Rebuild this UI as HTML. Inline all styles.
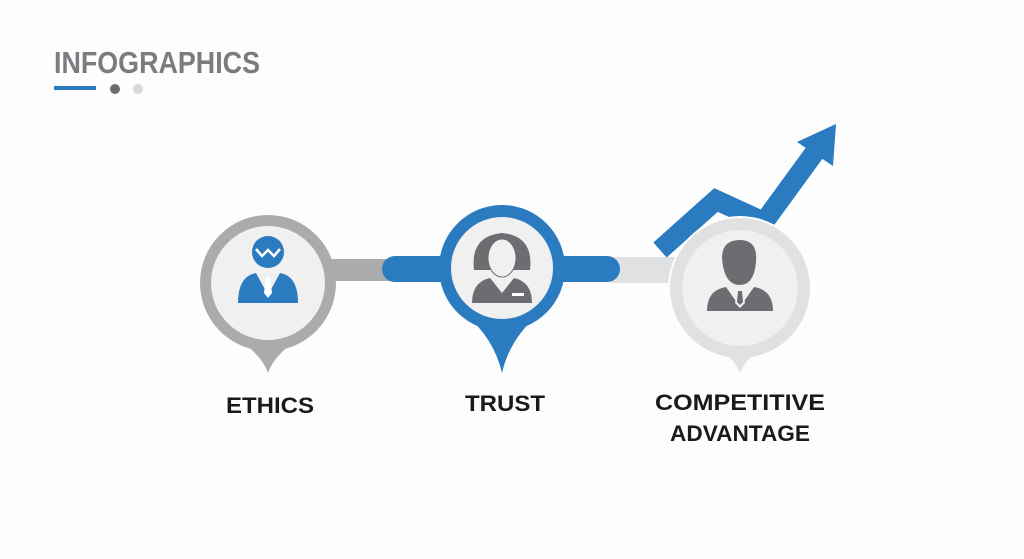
<!DOCTYPE html>
<html><head><style>html,body{margin:0;padding:0;background:#fff}svg{display:block}</style></head>
<body>
<svg width="1024" height="559" viewBox="0 0 1024 559" xmlns="http://www.w3.org/2000/svg" font-family="Liberation Sans, sans-serif">
<rect width="1024" height="559" fill="#fdfdfd"/>
<text x="54" y="73" font-size="31" font-weight="bold" fill="#7a7c7f" textLength="206" lengthAdjust="spacingAndGlyphs">INFOGRAPHICS</text>
<rect x="54" y="86" width="42" height="4" fill="#2a7bbf"/>
<circle cx="115" cy="89" r="5" fill="#6b6d70"/>
<circle cx="138" cy="89" r="5" fill="#d7d9db"/>

<rect x="320" y="259" width="70" height="22" fill="#a9abad"/>
<rect x="610" y="257" width="80" height="26" fill="#dfe1e3"/>
<rect x="382" y="256" width="238" height="26" rx="13" fill="#2a7bbf"/>

<polyline points="660,250 716,200 764,222 815,152" fill="none" stroke="#2a7bbf" stroke-width="20" stroke-linejoin="miter"/>
<polygon points="836,124 797,142 833,166" fill="#2a7bbf"/>

<!-- node 1 -->
<path d="M226,333 Q260,350 268,373 Q276,350 310,333 Z" fill="#a9abad"/>
<circle cx="268" cy="283" r="68" fill="#a9abad"/>
<circle cx="268" cy="283" r="57" fill="#f0f0f0"/>
<circle cx="268" cy="252" r="16" fill="#2a7bbf"/>
<polyline points="256,249 262,256 268,250 274,256 280,249" fill="none" stroke="#fff" stroke-width="2.5"/>
<path d="M238,303 Q238,276 256,273 L268,295 L280,273 Q298,276 298,303 Z" fill="#2a7bbf"/>
<path d="M266,277 L270,277 L272,293 L268,298 L264,293 Z" fill="#fff"/>

<!-- node 2 -->
<path d="M464,313 Q494,338 502,373 Q510,338 540,313 Z" fill="#2a7bbf"/>
<circle cx="502" cy="268" r="63" fill="#2a7bbf"/>
<circle cx="502" cy="268" r="51" fill="#f0f0f0"/>
<path d="M474,270 Q470,236 502,233 Q534,236 530,270 Z" fill="#6b6d70"/>
<ellipse cx="502" cy="258" rx="14" ry="19" fill="#f0f0f0" stroke="#6b6d70" stroke-width="1"/>
<path d="M472,303 Q472,282 490,278 L502,293 L514,278 Q532,282 532,303 Z" fill="#6b6d70"/>
<rect x="512" y="293" width="12" height="3" fill="#fff"/>

<!-- node 3 -->
<circle cx="740" cy="288" r="72" fill="#fdfdfd"/>
<path d="M700,338 Q732,352 740,373 Q748,352 780,338 Z" fill="#dfe1e3"/>
<circle cx="740" cy="288" r="70" fill="#dfe1e3"/>
<circle cx="740" cy="288" r="58" fill="#f0f0f0"/>
<path d="M722,258 Q722,240 740,240 Q758,240 756,262 Q754,285 740,285 Q724,285 722,258 Z" fill="#6b6d70"/>
<path d="M707,311 Q707,290 726,287 L740,307 L754,287 Q773,290 773,311 Z" fill="#6b6d70"/>
<path d="M737,289 L743,289 L745,303 L740,308 L735,303 Z" fill="#f0f0f0"/>
<path d="M738,291 L742,291 L743,302 L740,305 L737,302 Z" fill="#6b6d70"/>

<g font-size="22" font-weight="bold" fill="#1a1a1a" text-anchor="middle">
<text x="270" y="413" textLength="88" lengthAdjust="spacingAndGlyphs">ETHICS</text>
<text x="505" y="411" textLength="80" lengthAdjust="spacingAndGlyphs">TRUST</text>
<text x="740" y="410" textLength="170" lengthAdjust="spacingAndGlyphs">COMPETITIVE</text>
<text x="740" y="441" textLength="140" lengthAdjust="spacingAndGlyphs">ADVANTAGE</text>
</g>
</svg>
</body></html>
